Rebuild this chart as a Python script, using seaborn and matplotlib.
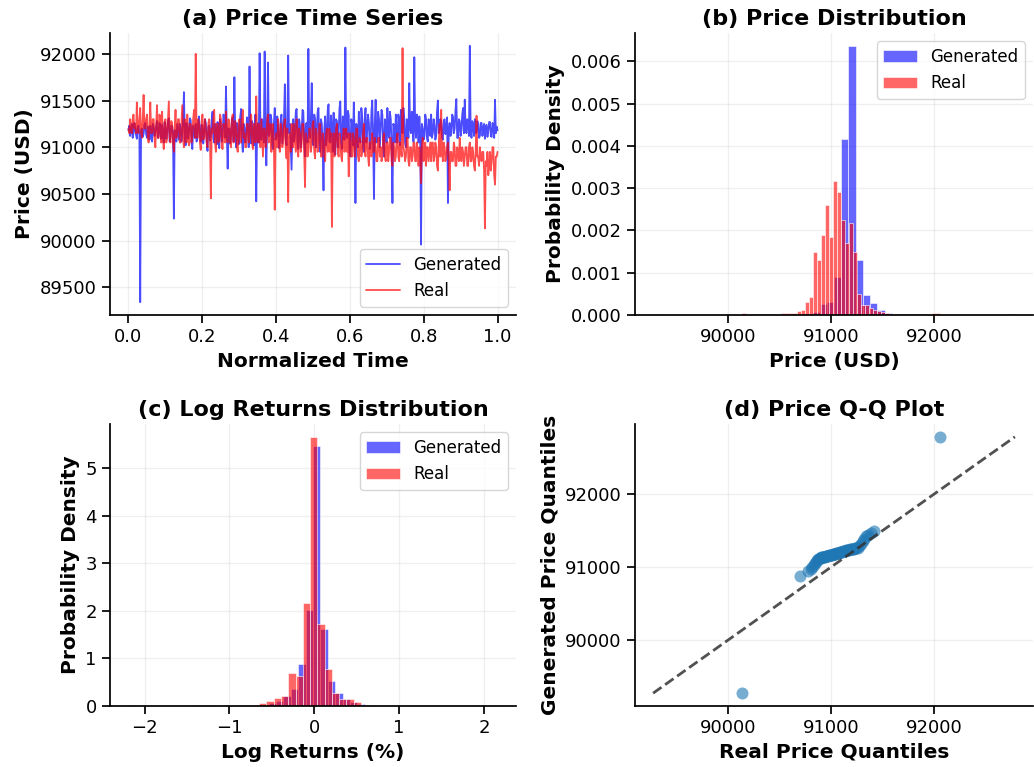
import numpy as np
import pandas as pd
import seaborn as sns
import matplotlib
matplotlib.use('Agg')
import matplotlib.pyplot as plt

sns.set_theme(context='notebook', style='ticks')
plt.rcParams['font.family'] = ['DejaVu Sans']
for k in ['text.color', 'axes.labelcolor', 'xtick.color', 'ytick.color', 'axes.edgecolor']:
    plt.rcParams[k] = 'black'

# ---- (a) price time series ----
gen_price = [
    91180, 91230, 91120, 91200, 91250, 91100, 91150, 91260, 91210, 91130, 91090, 91220, 91230, 91150, 89340, 91180, 91200, 91110, 91140, 91240,
    91260, 91140, 91100, 91220, 91190, 91080, 91230, 91170, 91060, 91250, 91210, 91120, 91170, 91230, 91280, 91100, 91120, 91260, 91190, 91090,
    91240, 91130, 91050, 91270, 91200, 91090, 91150, 91280, 91310, 91060, 91110, 91230, 91220, 91140, 90235, 91180, 91180, 91060, 91250, 91160,
    91080, 91250, 91200, 91060, 91140, 91300, 91590, 91100, 91020, 91260, 91220, 91090, 91160, 91310, 91290, 91050, 90980, 91230, 91180, 91100,
    91250, 91060, 91100, 91280, 91330, 91120, 91060, 91240, 91200, 91040, 91150, 91300, 91260, 91080, 90960, 91220, 91230, 91070, 91120, 91290,
    91380, 91100, 91050, 91250, 91190, 91030, 91270, 91120, 90990, 91300, 91220, 91060, 91140, 91350, 91300, 91100, 91650, 91150, 90770, 91200,
    91200, 91040, 91120, 91290, 91320, 91060, 91750, 91150, 91000, 91260, 91240, 91030, 91100, 91330, 91410, 91080, 90950, 91250, 91210, 91050,
    91140, 91320, 91300, 91000, 91865, 91150, 91040, 91280, 91230, 91020, 91120, 91350, 90420, 91200, 91260, 91050, 92007, 91180, 91080, 91300,
    91180, 91050, 92025, 91100, 90805, 91250, 91907, 91120, 91150, 91350, 91300, 91020, 90980, 91260, 91420, 91080, 91110, 91330, 91210, 90990,
    91050, 91280, 91350, 91040, 91180, 91310, 91675, 91100, 91020, 91250, 91982, 91150, 91250, 91000, 90759, 91200, 91300, 91060, 91130, 91380,
    91410, 91050, 90980, 91300, 91240, 91000, 91150, 91400, 91380, 91060, 90900, 91250, 91260, 91050, 92053, 91150, 91100, 91330, 91686, 91050,
    91020, 91350, 91300, 91000, 91160, 91380, 91420, 91050, 90950, 91300, 91250, 90980, 90538, 91200, 91330, 91020, 91100, 91400, 91460, 91060,
    91050, 91340, 91210, 90950, 91370, 91100, 90920, 91300, 91280, 91000, 91150, 91420, 91490, 91050, 90980, 91330, 91230, 91080, 92068, 91150,
    91100, 91390, 91340, 90950, 90900, 91300, 91250, 91020, 91480, 91150, 90402, 91250, 91200, 91000, 91380, 91100, 91050, 91420, 91320, 91000,
    90950, 91300, 91420, 91050, 91180, 91350, 91260, 90980, 91050, 91380, 91500, 91100, 90445, 91250, 91508, 91050, 91100, 91380, 91300, 91000,
    91200, 91400, 91350, 91000, 90900, 91300, 91250, 91050, 91420, 91150, 91100, 91380, 91300, 91000, 90402, 91250, 91220, 91050, 91350, 91100,
    91050, 91350, 91280, 91020, 91400, 91180, 91150, 91420, 91320, 91050, 91000, 91300, 91250, 91100, 91686, 91200, 91150, 91380, 91300, 91060,
    91964, 91200, 91100, 91350, 91250, 91050, 91330, 91150, 89957, 91250, 91200, 91080, 91120, 91350, 91300, 91100, 91060, 91300, 91250, 91120,
    91350, 91100, 91150, 91300, 91230, 91080, 91120, 91380, 91500, 91150, 91180, 91300, 91260, 91100, 91080, 91280, 91300, 91140, 91200, 91320,
    90402, 91200, 91260, 91120, 91150, 91350, 91330, 91150, 91200, 91400, 91515, 91100, 91100, 91300, 91280, 91120, 91180, 91350, 91420, 91150,
    91510, 91200, 91150, 91300, 91250, 91120, 92086, 91200, 91100, 91280, 91230, 91120, 91300, 91150, 91160, 91280, 91250, 91100, 91120, 91260,
    91260, 91120, 91200, 91250, 91090, 91230, 91240, 91110, 91180, 91270, 91270, 91120, 91110, 91260, 91230, 91100, 91508, 91150, 91220, 91180,
]
real_price = [
    91200, 91150, 91300, 91180, 91150, 91300, 91350, 91200, 91250, 91150, 91480, 91180, 91150, 91300, 91420, 91150, 91100, 91280, 91560, 91200,
    91200, 91300, 91350, 91100, 91050, 91250, 91480, 91150, 91150, 91300, 91300, 91100, 91000, 91250, 91450, 91100, 91100, 91350, 91250, 91050,
    91380, 91100, 90980, 91250, 91300, 91050, 91100, 91300, 91490, 91100, 91050, 91280, 91250, 91050, 90950, 91200, 91400, 91100, 91150, 91300,
    91300, 91050, 91050, 91250, 91450, 91080, 91000, 91300, 91200, 91050, 91350, 91100, 91020, 91250, 91250, 91050, 91150, 91300, 91400, 91100,
    92000, 91150, 91100, 91300, 91250, 91050, 90970, 91250, 91350, 91080, 91100, 91300, 91200, 91050, 91000, 91250, 91300, 91100, 90452, 91200,
    91150, 91300, 91400, 91050, 90950, 91250, 91250, 91050, 91100, 91350, 91300, 91000, 90980, 91250, 91200, 91050, 91380, 91100, 91050, 91300,
    91250, 91050, 91000, 91300, 91350, 91050, 91100, 91280, 91200, 91000, 90950, 91250, 91300, 91050, 91050, 91300, 91400, 91100, 91150, 91000,
    91000, 91250, 91250, 91050, 91100, 91300, 91350, 91050, 90980, 91250, 91200, 91050, 91545, 91100, 91050, 91250, 91150, 91000, 91300, 91100,
    90900, 91200, 91200, 91000, 91050, 91300, 91350, 91050, 91100, 91250, 90950, 91200, 91250, 91000, 90331, 91100, 91150, 91000, 91300, 91050,
    90950, 91250, 91200, 91000, 91050, 91250, 91300, 91000, 90880, 91200, 90413, 91100, 91150, 90950, 91250, 91000, 91000, 91250, 91100, 90950,
    91300, 91000, 90900, 91200, 91150, 90950, 91050, 91250, 91250, 90950, 90573, 91150, 91100, 90900, 90950, 91200, 91200, 90950, 91050, 91250,
    91280, 90950, 90880, 91200, 91150, 90950, 91000, 91250, 91250, 90900, 90900, 91150, 91100, 90900, 90850, 91150, 91200, 90950, 91050, 91200,
    90950, 91150, 90146, 91050, 91150, 90900, 91000, 91200, 91250, 90950, 90900, 91150, 91100, 90900, 90850, 91100, 91200, 90950, 91000, 91200,
    90950, 91150, 90688, 91050, 91150, 90900, 90900, 91150, 91100, 90900, 91000, 91200, 91200, 90900, 90850, 91100, 91050, 90900, 90950, 91150,
    91250, 90950, 90900, 91100, 91100, 90900, 90800, 91050, 91050, 90900, 91150, 90950, 90950, 91100, 91000, 90850, 90850, 91100, 91100, 90900,
    91000, 90850, 90900, 91100, 91150, 90900, 90850, 91050, 91050, 90850, 90950, 91100, 91100, 90850, 90800, 91050, 91000, 90850, 90900, 91100,
    91150, 90900, 90850, 91050, 91000, 90900, 92061, 91000, 90950, 90850, 90900, 91100, 91100, 90850, 90800, 91000, 91000, 90850, 90900, 91050,
    91050, 90850, 90850, 91050, 90950, 90800, 91000, 90900, 90616, 91000, 91100, 90850, 90900, 91050, 90800, 91000, 91000, 90850, 90950, 91050,
    90850, 91050, 91050, 90850, 90900, 91050, 91000, 90800, 90750, 91000, 91250, 90900, 91400, 90950, 90850, 91050, 91000, 90850, 90900, 91000,
    91050, 90850, 90538, 90950, 90950, 90850, 90850, 91050, 91000, 90800, 90800, 91000, 90950, 90850, 91100, 90900, 90850, 91000, 90950, 90800,
    90900, 91000, 91000, 90800, 90800, 91000, 91050, 90850, 90850, 91000, 90950, 90800, 90750, 90950, 91337, 90900, 90900, 90800, 91000, 90900,
    90850, 90950, 90950, 90750, 90131, 90850, 90800, 90950, 90700, 90800, 90950, 90750, 90850, 91000, 91000, 90700, 90600, 90900, 90900, 90950,
]

# ---- (b) price histograms (density per bin, 50 bins over each data range) ----
gen_price_range = (89274, 92781)
gen_price_dens = [
    0.00002, 0, 0.00001, 0, 0.00001, 0, 0, 0.00001, 0, 0.00001,
    0, 0.00001, 0.00001, 0, 0.00001, 0.00001, 0.00002, 0.00001, 0.00001, 0.00002,
    0.00002, 0.00003, 0.00006, 0.00026, 0.00031, 0.0009, 0.00417, 0.00635, 0.0013, 0.00047,
    0.00028, 0.00012, 0.00004, 0.00001, 0.00001, 0, 0.00001, 0, 0.00001, 0.00001,
    0, 0.00001, 0, 0.00001, 0, 0.00001, 0, 0.00001, 0, 0.00002,
]
real_price_range = (90133, 92057)
real_price_dens = [
    0.00004, 0.00002, 0.00002, 0.00002, 0.00002, 0.00002, 0.00002, 0.00003, 0.00002, 0.00003,
    0.00004, 0.00004, 0.00004, 0.00005, 0.0001, 0.00013, 0.0003, 0.00043, 0.0015, 0.0013,
    0.0019, 0.0026, 0.00185, 0.00317, 0.0029, 0.00225, 0.0017, 0.00217, 0.0015, 0.0005,
    0.00024, 0.00024, 0.00017, 0.00012, 0.0001, 0.00008, 0.00005, 0.00002, 0.00002, 0.00002,
    0.00002, 0.00002, 0.00002, 0.00002, 0.00002, 0.00002, 0.00002, 0.00002, 0.00004, 0.00004,
]

# ---- (c) log return histograms (%) ----
gen_ret_range = (-2.19, 2.16)
gen_ret_dens = [
    0.02, 0.01, 0.01, 0, 0.01, 0.01, 0.01, 0, 0.01, 0.01,
    0.01, 0.01, 0.01, 0.01, 0.01, 0.01, 0.01, 0.02, 0.03, 0.07,
    0.1, 0.21, 0.36, 0.88, 2.01, 5.45, 1.61, 0.52, 0.27, 0.14,
    0.09, 0.04, 0.02, 0.01, 0.01, 0.01, 0.01, 0.01, 0.01, 0.01,
    0.01, 0.01, 0.01, 0.01, 0.01, 0.01, 0.01, 0.01, 0.01, 0.02,
]
real_ret_range = (-2.19, 2.09)
real_ret_dens = [
    0.01, 0.01, 0.01, 0.01, 0.01, 0.01, 0.01, 0.01, 0.01, 0.02,
    0.02, 0.02, 0.01, 0.02, 0.01, 0.02, 0.02, 0.03, 0.07, 0.11,
    0.16, 0.2, 0.69, 0.64, 2.17, 5.64, 1.73, 0.77, 0.28, 0.14,
    0.14, 0.09, 0.03, 0.02, 0.01, 0.01, 0.01, 0.01, 0.01, 0.01,
    0.01, 0.01, 0.01, 0.01, 0.01, 0.01, 0.01, 0.01, 0.02, 0.02,
]

# ---- (d) Q-Q quantiles ----
real_q = [90133, 90698, 90778, 90800, 90815, 90830, 90842, 90853, 90863, 90872,
          90881, 90890, 90898, 90906, 90914, 90922, 90930, 90938, 90946, 90954,
          90962, 90970, 90978, 90986, 90994, 91002, 91010, 91018, 91026, 91034,
          91042, 91050, 91058, 91066, 91074, 91082, 91090, 91098, 91106, 91114,
          91122, 91130, 91140, 91150, 91160, 91170, 91180, 91190, 91200, 91210,
          91220, 91232, 91245, 91258, 91272, 91288, 91305, 91322, 91340, 91360,
          91385, 91419, 92057]
gen_q = [89274, 90872, 90940, 90973, 91000, 91030, 91055, 91075, 91092, 91105,
         91115, 91122, 91127, 91131, 91134, 91137, 91140, 91143, 91146, 91149,
         91152, 91155, 91158, 91161, 91164, 91167, 91170, 91174, 91177, 91181,
         91184, 91188, 91191, 91195, 91198, 91202, 91205, 91209, 91212, 91216,
         91219, 91223, 91227, 91231, 91235, 91239, 91243, 91246, 91248, 91250,
         91252, 91254, 91257, 91265, 91290, 91320, 91355, 91390, 91425, 91440,
         91460, 91488, 92781]

BLUE, RED = 'blue', 'red'
TITLE_FS, LABEL_FS, TICK_FS, LEG_FS = 16, 14.5, 13, 12


def hist_bars(ax, dens, rng, color, label):
    edges = np.linspace(rng[0], rng[1], len(dens) + 1)
    hd = pd.DataFrame({'x': (edges[:-1] + edges[1:]) / 2, 'w': dens})
    sns.histplot(data=hd, x='x', weights='w', bins=edges.tolist(), stat='count',
                 color=color, alpha=0.6, edgecolor='white', linewidth=0.4,
                 label=label, ax=ax)


fig, axes = plt.subplots(2, 2, figsize=(10.34, 7.67), dpi=100)
ax_a, ax_b, ax_c, ax_d = axes.flat

# (a)
t = np.linspace(0, 1, len(gen_price))
ts = pd.DataFrame({'t': t, 'Generated': gen_price, 'Real': real_price})
sns.lineplot(data=ts, x='t', y='Generated', color=BLUE, alpha=0.7, lw=1.3, label='Generated', ax=ax_a)
sns.lineplot(data=ts, x='t', y='Real', color=RED, alpha=0.7, lw=1.3, label='Real', ax=ax_a)
ax_a.set_title('(a) Price Time Series', fontsize=TITLE_FS, fontweight='bold')
ax_a.set_xlabel('Normalized Time', fontsize=LABEL_FS, fontweight='bold')
ax_a.set_ylabel('Price (USD)', fontsize=LABEL_FS, fontweight='bold')
ax_a.legend(loc='lower right', fontsize=LEG_FS)

# (b)
hist_bars(ax_b, gen_price_dens, gen_price_range, BLUE, 'Generated')
hist_bars(ax_b, real_price_dens, real_price_range, RED, 'Real')
ax_b.set_xticks([90000, 91000, 92000])
ax_b.set_title('(b) Price Distribution', fontsize=TITLE_FS, fontweight='bold')
ax_b.set_xlabel('Price (USD)', fontsize=LABEL_FS, fontweight='bold')
ax_b.set_ylabel('Probability Density', fontsize=LABEL_FS, fontweight='bold')
ax_b.legend(loc='upper right', fontsize=LEG_FS)

# (c)
hist_bars(ax_c, gen_ret_dens, gen_ret_range, BLUE, 'Generated')
hist_bars(ax_c, real_ret_dens, real_ret_range, RED, 'Real')
ax_c.set_title('(c) Log Returns Distribution', fontsize=TITLE_FS, fontweight='bold')
ax_c.set_xlabel('Log Returns (%)', fontsize=LABEL_FS, fontweight='bold')
ax_c.set_ylabel('Probability Density', fontsize=LABEL_FS, fontweight='bold')
ax_c.legend(loc='upper right', fontsize=LEG_FS)

# (d)
sns.scatterplot(x=real_q, y=gen_q, color='#1f77b4', alpha=0.6, s=75, linewidth=0, ax=ax_d)
lo = min(min(real_q), min(gen_q))
hi = max(max(real_q), max(gen_q))
ax_d.plot([lo, hi], [lo, hi], ls='--', color='#333333', alpha=0.85, lw=2)
ax_d.set_xticks([90000, 91000, 92000])
ax_d.set_yticks([90000, 91000, 92000])
ax_d.set_title('(d) Price Q-Q Plot', fontsize=TITLE_FS, fontweight='bold')
ax_d.set_xlabel('Real Price Quantiles', fontsize=LABEL_FS, fontweight='bold')
ax_d.set_ylabel('Generated Price Quantiles', fontsize=LABEL_FS, fontweight='bold')

for ax in axes.flat:
    ax.grid(True, alpha=0.3)
    ax.tick_params(labelsize=TICK_FS)
    sns.despine(ax=ax)

H = 767
ax_a.set_position([110 / 1034, 1 - 315 / H, 406 / 1034, 282 / H])
ax_b.set_position([635 / 1034, 1 - 315 / H, 398 / 1034, 282 / H])
ax_c.set_position([110 / 1034, 1 - 706 / H, 406 / 1034, 282 / H])
ax_d.set_position([635 / 1034, 1 - 706 / H, 398 / 1034, 282 / H])

fig.savefig('out.png', dpi=100)
plt.close(fig)
